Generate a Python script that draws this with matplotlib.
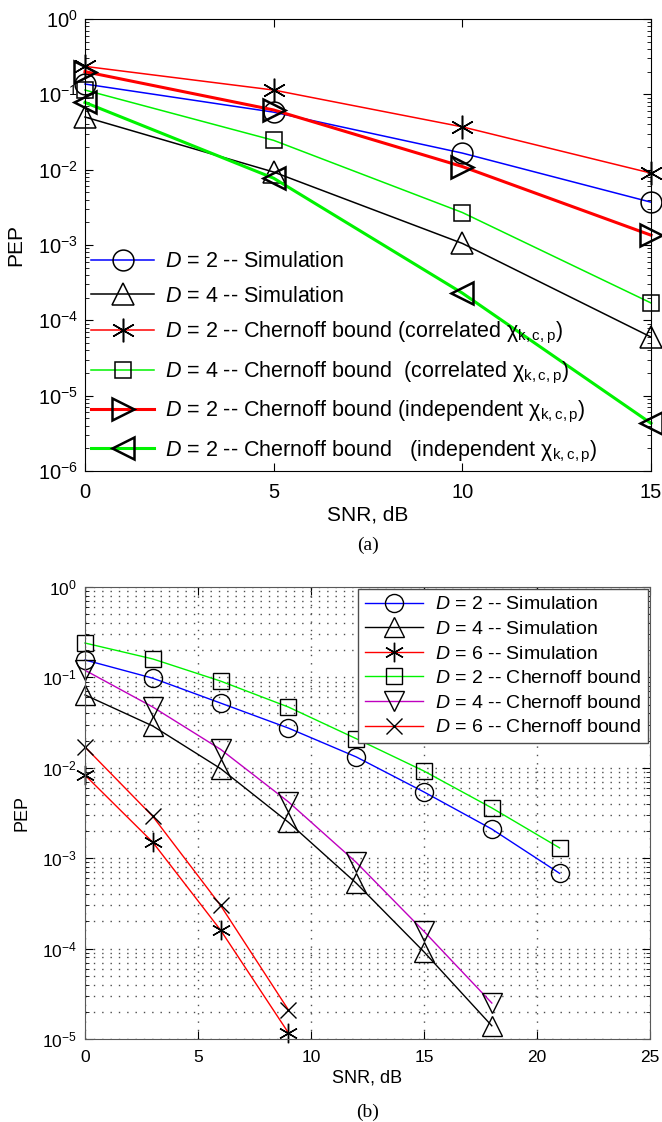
import numpy as np
import matplotlib
matplotlib.use("Agg")
import matplotlib.pyplot as plt
from matplotlib.ticker import LogLocator, LogFormatterMathtext, NullFormatter

plt.rcParams["font.family"] = ["Liberation Sans", "DejaVu Sans"]
plt.rcParams["mathtext.fontset"] = "custom"
plt.rcParams["mathtext.rm"] = "Liberation Sans"
plt.rcParams["mathtext.it"] = "Liberation Sans:italic"
plt.rcParams["mathtext.bf"] = "Liberation Sans:bold"

# ---- panel (a) data ----
snr_a = [0, 5, 10, 15]
sim_d2_a = [0.137, 0.058, 0.0166, 0.0037]
sim_d4_a = [0.050, 0.0093, 0.00105, 6.0e-5]
cb_corr_d2_a = [0.235, 0.114, 0.037, 0.009]
cb_corr_d4_a = [0.114, 0.0245, 0.0027, 0.00017]
cb_ind_d2_a = [0.20, 0.062, 0.011, 0.00135]
cb_ind_d2b_a = [0.078, 0.0077, 0.00023, 4.3e-6]

labels_a = [
    "$D$ = 2 -- Simulation",
    "$D$ = 4 -- Simulation",
    "$D$ = 2 -- Chernoff bound (correlated χ$_{\\mathrm{k,c,p}}$)",
    "$D$ = 4 -- Chernoff bound  (correlated χ$_{\\mathrm{k,c,p}}$)",
    "$D$ = 2 -- Chernoff bound (independent χ$_{\\mathrm{k,c,p}}$)",
    "$D$ = 2 -- Chernoff bound   (independent χ$_{\\mathrm{k,c,p}}$)",
]

# ---- panel (b) data ----
snr_b = [0, 3, 6, 9, 12, 15, 18, 21]
sim_d2_b = [0.156, 0.098, 0.052, 0.0275, 0.0132, 0.0054, 0.0021, 0.00068]
sim_d4_b = [0.064, 0.029, 0.0098, 0.0025, 0.00053, 9.2e-5, 1.4e-5]
sim_d6_b = [0.0083, 0.0015, 1.6e-4, 1.17e-5]
cb_d2_b = [0.24, 0.16, 0.091, 0.047, 0.021, 0.0092, 0.0036, 0.0013]
cb_d4_b = [0.12, 0.047, 0.016, 0.0042, 0.0009, 1.55e-4, 2.5e-5]
cb_d6_b = [0.017, 0.0029, 3.0e-4, 2.1e-5]

labels_b = [
    "$D$ = 2 -- Simulation",
    "$D$ = 4 -- Simulation",
    "$D$ = 6 -- Simulation",
    "$D$ = 2 -- Chernoff bound",
    "$D$ = 4 -- Chernoff bound",
    "$D$ = 6 -- Chernoff bound",
]

GREEN = (0.0, 0.95, 0.0)
ASTERISK = (6, 2, 0)   # matlab-style '*'

fig = plt.figure(figsize=(6.62, 11.22), dpi=100)


def style_axes(ax, fs):
    ax.set_yscale("log")
    ax.tick_params(which="both", direction="in", top=True, right=True,
                   labelsize=fs)
    ax.tick_params(which="major", length=6, width=0.8)
    ax.tick_params(which="minor", length=3, width=0.6)
    ax.yaxis.set_major_locator(LogLocator(base=10, numticks=20))
    ax.yaxis.set_major_formatter(LogFormatterMathtext())
    ax.yaxis.set_minor_locator(LogLocator(base=10, subs=np.arange(2, 10), numticks=20))
    ax.yaxis.set_minor_formatter(NullFormatter())


# ---------------- (a) ----------------
ax1 = fig.add_axes([85 / 662, 1 - 471 / 1122, 566 / 662, 452 / 1122])
style_axes(ax1, 14.5)
ax1.tick_params(axis="x", pad=9)
ax1.tick_params(axis="y", pad=5)

mk = dict(mec="k", mfc="none", mew=1.1, clip_on=False)
ax1.plot(snr_a, sim_d2_a, "-", color="b", lw=1.1, marker="o", ms=15, label=labels_a[0], **mk)
ax1.plot(snr_a, sim_d4_a, "-", color="k", lw=1.1, marker="^", ms=16, label=labels_a[1], **mk)
ax1.plot(snr_a, cb_corr_d2_a, "-", color="r", lw=1.1, marker=ASTERISK, ms=17, label=labels_a[2], **mk)
ax1.plot(snr_a, cb_corr_d4_a, "-", color=GREEN, lw=1.1, marker="s", ms=12, label=labels_a[3], **mk)
ax1.plot(snr_a, cb_ind_d2_a, "-", color="r", lw=2.2, marker=">", ms=16, label=labels_a[4],
         mec="k", mfc="none", mew=1.8, clip_on=False)
ax1.plot(snr_a, cb_ind_d2b_a, "-", color=GREEN, lw=2.2, marker="<", ms=16, label=labels_a[5],
         mec="k", mfc="none", mew=1.8, clip_on=False)

ax1.set_xlim(0, 15)
ax1.set_ylim(1e-6, 1)
ax1.set_xticks([0, 5, 10, 15])
ax1.set_ylabel("PEP", fontsize=15)
ax1.yaxis.set_label_coords(-0.105, 0.5)
ax1.set_xlabel("SNR, dB", fontsize=15)
ax1.xaxis.set_label_coords(0.5, -44 / 452)
ax1.xaxis.label.set_va("center")
ax1.legend(loc="lower left", frameon=False, fontsize=15.5, handlelength=2.9,
           handletextpad=0.5, labelspacing=0.62, borderaxespad=0.2, borderpad=0.1)

# ---------------- (b) ----------------
ax2 = fig.add_axes([85 / 662, 1 - 1039 / 1122, 565 / 662, 452 / 1122])
style_axes(ax2, 12.5)
ax2.tick_params(axis="x", pad=8)
ax2.tick_params(axis="y", pad=6)
for sp in ax2.spines.values():
    sp.set_color("0.35")

mk2 = dict(mec="k", mfc="none", mew=1.0, clip_on=False)
ax2.plot(snr_b, sim_d2_b, "-", color="b", lw=1.0, marker="o", ms=13, label=labels_b[0], **mk2)
ax2.plot(snr_b[:7], sim_d4_b, "-", color="k", lw=1.0, marker="^", ms=14, label=labels_b[1], **mk2)
ax2.plot(snr_b[:4], sim_d6_b, "-", color="r", lw=1.0, marker=ASTERISK, ms=14, label=labels_b[2], **mk2)
ax2.plot(snr_b, cb_d2_b, "-", color=GREEN, lw=1.0, marker="s", ms=11, label=labels_b[3], **mk2)
ax2.plot(snr_b[:7], cb_d4_b, "-", color="m", lw=1.0, marker="v", ms=14, label=labels_b[4], **mk2)
ax2.plot(snr_b[:4], cb_d6_b, "-", color="r", lw=1.0, marker="x", ms=12, label=labels_b[5], **mk2)

ax2.set_xlim(0, 25)
ax2.set_ylim(1e-5, 1)
ax2.set_xticks([0, 5, 10, 15, 20, 25])
ax2.grid(True, which="major", ls=(0, (1, 5)), color="0.3", lw=1.0)
ax2.grid(True, which="minor", axis="y", ls=(0, (1, 5)), color="0.3", lw=1.0)
ax2.set_ylabel("PEP", fontsize=13)
ax2.yaxis.set_label_coords(-0.097, 0.5)
ax2.set_xlabel("SNR, dB", fontsize=13)
ax2.xaxis.set_label_coords(0.5, -39 / 452)
ax2.xaxis.label.set_va("center")
leg = ax2.legend(loc="upper right", fontsize=14, handlelength=3.0,
                 handletextpad=0.6, labelspacing=0.36, borderaxespad=0.1,
                 borderpad=0.35, fancybox=False, framealpha=1)
leg.get_frame().set_edgecolor("0.3")
leg.get_frame().set_linewidth(1.0)

fig.text(368 / 662, 1 - 545 / 1122, "(a)", fontsize=14, family="Liberation Serif",
         ha="center", va="center")
fig.text(368 / 662, 1 - 1112 / 1122, "(b)", fontsize=14, family="Liberation Serif",
         ha="center", va="center")

fig.savefig("out.png", dpi=100)
